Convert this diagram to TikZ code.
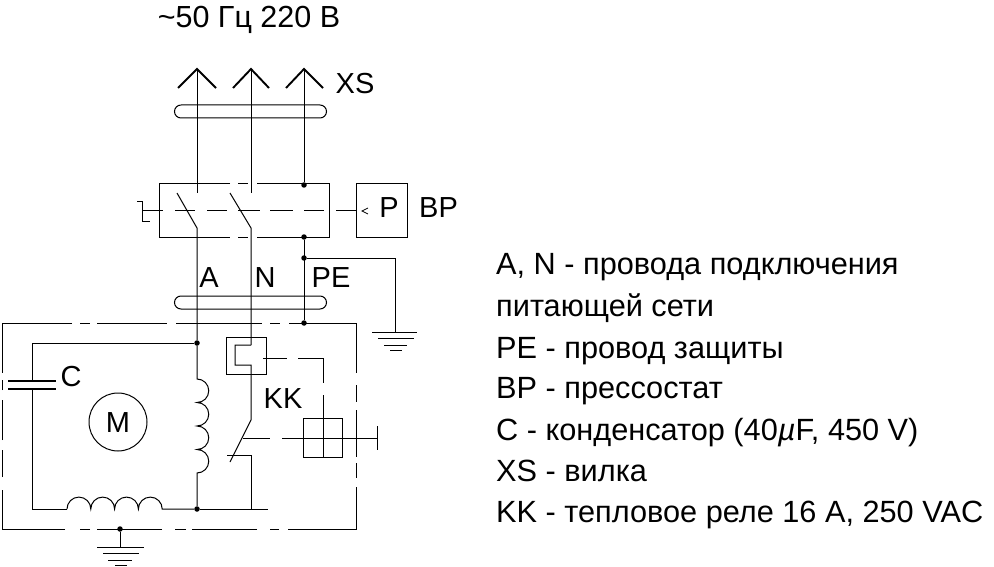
\documentclass[tikz,border=0pt]{standalone}
\usepackage{fontspec}
\setmainfont{Liberation Sans}
\tikzset{
  wire/.style={draw=black,line width=1pt},
  heavy/.style={draw=black,line width=1.9pt},
  plate/.style={draw=black,line width=2pt},
  junction/.style={circle,fill=black,inner sep=0pt,minimum size=5.5pt},
  lab/.style={inner sep=0pt,anchor=base,font=\fontsize{29}{29}\selectfont},
  title/.style={inner sep=0pt,anchor=base,font=\fontsize{30.5}{30}\selectfont},
  notes/.style={inner sep=0pt,anchor=base west,font=\fontsize{30.7}{30}\selectfont},
}
\begin{document}
\begin{tikzpicture}[x=1pt,y=-1pt]
\useasboundingbox (0,0) rectangle (994,567);
% junctions
\node[junction] (j1) at (304,185) {};
\node[junction] (j2) at (304,237) {};
\node[junction] (j3) at (304,258) {};
\node[junction] (j4) at (304,323) {};
\node[junction] (j5) at (197,343) {};
\node[junction] (j6) at (197,509) {};
\node[junction] (j7) at (120,529) {};
% plug
\coordinate (p1) at (197,69); \coordinate (p2) at (251,69); \coordinate (p3) at (304,69);
\draw[heavy] (178,88) -- (p1) -- (216,88);
\draw[heavy] (233,88) -- (p2) -- (269,88);
\draw[heavy] (286,88) -- (p3) -- (323,88);
\draw[wire] (p1) -- (197,193);
\draw[wire] (p2) -- (251,193);
\draw[wire] (p3) -- (j1);
% cable ovals
\draw[wire] (181,105) -- (320,105) arc[start angle=-90,end angle=90,radius=6.5] -- (181,118) arc[start angle=90,end angle=270,radius=6.5];
\draw[wire] (181,296) -- (320,296) arc[start angle=-90,end angle=90,radius=6.5] -- (181,309) arc[start angle=90,end angle=270,radius=6.5];
% switch box
\draw[wire] (230,184) -- (159,184) -- (159,237) -- (230,237);
\draw[wire] (238,184) -- (248,184) (238,237) -- (248,237);
\draw[wire] (257,184) -- (329,184) -- (329,237) -- (257,237);
\draw[wire] (177,193) -- (197,228) -- (j5);
\draw[wire] (230,193) -- (251,228) -- (251,345);
\draw[wire] (137,202) -- (142,202) -- (142,221) -- (150,221);
\draw[wire] (142,211) -- (163,211) (175,211) -- (195,211) (207,211) -- (227,211) (238,211) -- (260,211) (270,211) -- (293,211) (304,211) -- (324,211) (336,211) -- (356,211);
% pressure switch
\node[wire,draw,minimum width=51pt,minimum height=53pt,inner sep=0pt] (bp) at (381.5,210.5) {};
\draw[line width=.7pt] (368,208) -- (362,211) -- (368,214);
% earth right
\draw[wire] (j2) -- (j4);
\draw[wire] (j3) -- (395,258) -- (395,332);
\draw[wire] (372,332) -- (417,332) (378,338) -- (414,338) (384,345) -- (407,345) (390,350) -- (402,350);
% frame
\draw[wire] (72,323) -- (2,323) -- (2,373);
\draw[wire] (80,323) -- (90,323) (97,323) -- (167,323) (176,323) -- (262,323) (270,323) -- (280,323);
\draw[wire] (289,323) -- (356,323) -- (356,373);
\draw[wire] (356,385) -- (356,402) (356,410) -- (356,457) (356,463) -- (356,478);
\draw[wire] (356,487) -- (356,529) -- (288,529);
\draw[wire] (279,529) -- (270,529) (257,529) -- (192,529) (186,529) -- (175,529) (162,529) -- (97,529) (90,529) -- (80,529);
\draw[wire] (65,529) -- (2,529) -- (2,490);
\draw[wire] (2,477) -- (2,450) (2,440) -- (2,400) (2,390) -- (2,380);
% motor
\draw[wire] (j5) -- (32,343) -- (32,380);
\draw[plate] (8,380.5) -- (56,380.5) (8,389) -- (56,389);
\draw[wire] (32,389) -- (32,509) -- (67,509);
\draw[wire] (67,509) arc[start angle=180,end angle=360,radius=11.9] arc[start angle=180,end angle=360,radius=11.9] arc[start angle=180,end angle=360,radius=11.9] arc[start angle=180,end angle=360,radius=11.9] -- (j6);
\draw[wire] (j5) -- (197,379) arc[start angle=-90,end angle=90,radius=11.75] arc[start angle=-90,end angle=90,radius=11.75] arc[start angle=-90,end angle=90,radius=11.75] arc[start angle=-90,end angle=90,radius=11.75] -- (j6);
\draw[wire] (j6) -- (268,509);
\node[wire,draw,circle,minimum size=58pt,inner sep=0pt] (m) at (118,422) {};
% ground bottom
\draw[wire] (j7) -- (120,547);
\draw[wire] (97,547) -- (144,547) (103,553) -- (139,553) (108,560) -- (132,560) (115,565) -- (127,565);
% thermal relay
\node[wire,draw,minimum width=40pt,minimum height=37pt,inner sep=0pt] (kk) at (246,355.5) {};
\draw[wire] (251,345) -- (235,345) -- (235,365) -- (251,365) -- (251,420) -- (230,462);
\draw[wire] (227,455) -- (251,455) -- (251,509);
\draw[wire] (263,358) -- (287,358) (298,358) -- (323,358) -- (323,383) (323,395) -- (323,457);
\node[wire,draw,minimum width=38.5pt,minimum height=39pt,inner sep=0pt] (kb) at (323,437.5) {};
\draw[wire] (243,438) -- (270,438) (282,438) -- (377,438);
\draw[wire] (377,426) -- (377,450);
% labels
\node[title] (t0) at (249,28) {\textasciitilde50 Гц 220 В};
\node[lab] (txs) at (355,94) {XS};
\node[lab] (tbp) at (438.5,218) {BP};
\node[lab] (tp) at (389,218) {P};
\node[lab] (ta) at (209,287) {A};
\node[lab] (tn) at (265,287) {N};
\node[lab] (tpe) at (331,287) {PE};
\node[lab] (tk) at (283,408) {KK};
\node[lab] (tc) at (71,386) {C};
\node[lab] (tm) at (118,432) {M};
% notes
\node[notes] (n1) at (496,274) {A, N - провода подключения};
\node[notes] (n2) at (496,316) {питающей сети};
\node[notes] (n3) at (496,358) {PE - провод защиты};
\node[notes] (n4) at (496,398) {BP - прессостат};
\node[notes] (n5) at (496,440) {C - конденсатор (40\textit{µ}F, 450 V)};
\node[notes] (n6) at (496,481) {XS - вилка};
\node[notes] (n7) at (496,522) {KK - тепловое реле 16 A, 250 VAC};
\end{tikzpicture}
\end{document}
